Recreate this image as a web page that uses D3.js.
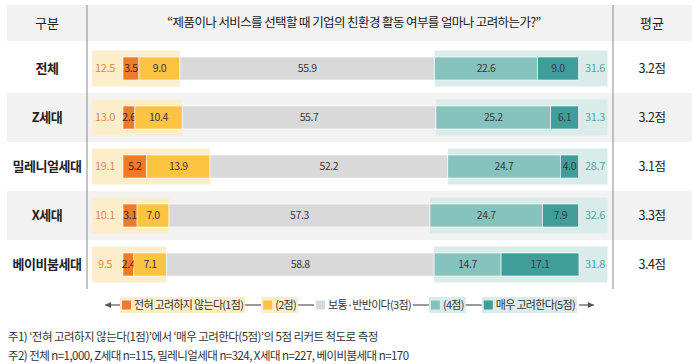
<!DOCTYPE html>
<html>
<head>
<meta charset="utf-8">
<script src="https://cdn.jsdelivr.net/npm/d3@7"></script>
<style>
  body { margin: 0; background: #fff; }
  svg text { font-family: "Noto Sans CJK KR", "Noto Sans", sans-serif; }
</style>
</head>
<body>
<div class="chart-wrapper"></div>
<script>
var categories = ["전체", "Z세대", "밀레니얼세대", "X세대", "베이비붐세대"];
var notConsider = [3.5, 2.6, 5.2, 3.1, 2.4];      // 1점
var ratherNot = [9.0, 10.4, 13.9, 7.0, 7.1];      // 2점
var neutral = [55.9, 55.7, 52.2, 57.3, 58.8];     // 3점
var ratherYes = [22.6, 25.2, 24.7, 24.7, 14.7];   // 4점
var consider = [9.0, 6.1, 4.0, 7.9, 17.1];        // 5점
var negTotal = [12.5, 13.0, 19.1, 10.1, 9.5];
var posTotal = [31.6, 31.3, 28.7, 32.6, 31.8];
var means = ["3.2점", "3.2점", "3.1점", "3.3점", "3.4점"];
var legendLabels = ["전혀 고려하지 않는다(1점)", "(2점)", "보통·반반이다(3점)", "(4점)", "매우 고려한다(5점)"];
var title = "“제품이나 서비스를 선택할 때 기업의 친환경 활동 여부를 얼마나 고려하는가?”";
var notes = [
    "주1) ‘전혀 고려하지 않는다(1점)’에서 ‘매우 고려한다(5점)’의 5점 리커트 척도로 측정",
    "주2) 전체 n=1,000, Z세대 n=115, 밀레니얼세대 n=324, X세대 n=227, 베이비붐세대 n=170"
];

var colors = ["#ec7b2c", "#fdc441", "#d9d9d9", "#86c2be", "#3f9e9a"];
var series = [notConsider, ratherNot, neutral, ratherYes, consider];

var width = 699, height = 364;
var svg = d3.select(".chart-wrapper").append("svg")
    .attr("width", width)
    .attr("height", height);

var x = d3.scaleLinear().domain([0, 100]).range([123, 578.5]);
var y = d3.scaleBand().domain(categories).range([44, 289]);
var bh = 23, boxH = 36;

// header band + alternating row bands
svg.append("rect").attr("x", 7).attr("y", 5).attr("width", 685).attr("height", 36).attr("fill", "#f2f2f2");
svg.selectAll(".row-bg")
    .data(categories.filter(function (d, i) { return i % 2 === 1; }))
    .enter().append("rect")
    .attr("class", "row-bg")
    .attr("x", 7)
    .attr("y", function (d) { return y(d); })
    .attr("width", 685)
    .attr("height", y.bandwidth())
    .attr("fill", "#f2f2f2");

svg.append("text").attr("x", 47).attr("y", 23).attr("dy", "0.35em")
    .attr("text-anchor", "middle").attr("font-size", 13).attr("fill", "#222").text("구분");
svg.append("text").attr("x", 354).attr("y", 23).attr("dy", "0.35em")
    .attr("text-anchor", "middle").attr("font-size", 12.5).attr("letter-spacing", "-0.6px")
    .attr("fill", "#1a1a1a").text(title);
svg.append("text").attr("x", 652).attr("y", 23).attr("dy", "0.35em")
    .attr("text-anchor", "middle").attr("font-size", 13).attr("fill", "#222").text("평균");

// stack the five series
var table = categories.map(function (c, i) {
    var o = { name: c };
    series.forEach(function (s, k) { o["s" + k] = s[i]; });
    return o;
});
var keys = ["s0", "s1", "s2", "s3", "s4"];
var stacked = d3.stack().keys(keys)(table);

var rows = svg.selectAll(".row")
    .data(table)
    .enter().append("g")
    .attr("class", "row")
    .attr("transform", function (d) { return "translate(0," + (y(d.name) + y.bandwidth() / 2) + ")"; });

// summary boxes behind bars
rows.append("rect")
    .attr("x", 92)
    .attr("y", -boxH / 2)
    .attr("width", function (d) { return x(d.s0 + d.s1) - 92; })
    .attr("height", boxH)
    .attr("fill", "#fdeecb");
rows.append("rect")
    .attr("x", function (d) { return x(d.s0 + d.s1 + d.s2); })
    .attr("y", -boxH / 2)
    .attr("width", function (d) { return x(100) + 29 - x(d.s0 + d.s1 + d.s2); })
    .attr("height", boxH)
    .attr("fill", "#d9ecea");

stacked.forEach(function (layer, k) {
    layer.forEach(function (seg, i) {
        var cy = y(categories[i]) + y.bandwidth() / 2;
        svg.append("rect")
            .attr("x", x(seg[0]))
            .attr("y", cy - bh / 2)
            .attr("width", x(seg[1]) - x(seg[0]))
            .attr("height", bh)
            .attr("fill", colors[k])
            .attr("stroke", "#fff")
            .attr("stroke-width", 0.6);
        svg.append("text")
            .attr("x", (x(seg[0]) + x(seg[1])) / 2)
            .attr("y", cy)
            .attr("dy", "0.35em")
            .attr("text-anchor", "middle")
            .attr("font-size", 10.5)
            .attr("letter-spacing", "-0.4px")
            .attr("fill", k === 0 ? "#4a2a10" : "#3a3a3a")
            .text(d3.format(".1f")(seg[1] - seg[0]));
    });
});

rows.append("text")
    .attr("x", 105).attr("dy", "0.35em").attr("text-anchor", "middle")
    .attr("font-size", 11).attr("letter-spacing", "-0.4px").attr("fill", "#e08a4c")
    .text(function (d, i) { return d3.format(".1f")(negTotal[i]); });
rows.append("text")
    .attr("x", 595).attr("dy", "0.35em").attr("text-anchor", "middle")
    .attr("font-size", 11).attr("letter-spacing", "-0.4px").attr("fill", "#5aa5a2")
    .text(function (d, i) { return d3.format(".1f")(posTotal[i]); });

rows.append("text")
    .attr("x", 47).attr("dy", "0.35em").attr("text-anchor", "middle")
    .attr("font-size", 13).attr("font-weight", "bold").attr("letter-spacing", "-0.5px")
    .attr("fill", "#222")
    .text(function (d) { return d.name; });
rows.append("text")
    .attr("x", 652).attr("dy", "0.35em").attr("text-anchor", "middle")
    .attr("font-size", 12.5).attr("letter-spacing", "-0.5px").attr("fill", "#222")
    .text(function (d, i) { return means[i]; });

// separators
[87, 613].forEach(function (lx) {
    svg.append("line").attr("x1", lx).attr("x2", lx).attr("y1", 5).attr("y2", 289)
        .attr("stroke", "#888").attr("stroke-width", 1);
});

// legend
var ly = 305;
var legend = svg.append("g").attr("class", "legend");
var bgColors = ["#fdeecb", "#fdeecb", "none", "#d9ecea", "#d9ecea"];
var cx = 105;
function arrow(x1, x2) {
    legend.append("line").attr("x1", x1).attr("x2", x2).attr("y1", ly).attr("y2", ly)
        .attr("stroke", "#555").attr("stroke-width", 1.2);
    var dir = x2 > x1 ? 1 : -1;
    legend.append("path")
        .attr("d", "M" + x2 + "," + ly + "L" + (x2 - dir * 6) + "," + (ly - 3) + "L" + (x2 - dir * 6) + "," + (ly + 3) + "Z")
        .attr("fill", "#555");
}
arrow(cx + 15, cx);
cx += 17;
legendLabels.forEach(function (lab, i) {
    var g = legend.append("g");
    var bg = g.append("rect").attr("x", cx - 2).attr("y", ly - 8).attr("height", 16).attr("fill", bgColors[i]);
    g.append("rect").attr("x", cx).attr("y", ly - 4.5).attr("width", 9).attr("height", 9).attr("fill", colors[i]);
    var t = g.append("text").attr("x", cx + 12).attr("y", ly).attr("dy", "0.35em")
        .attr("font-size", 11).attr("letter-spacing", "-0.7px").attr("fill", "#333").text(lab);
    var w = t.node().getComputedTextLength();
    bg.attr("width", w + 16);
    cx += w + 14;
    if (i < legendLabels.length - 1) {
        legend.append("line").attr("x1", cx).attr("x2", cx + 16).attr("y1", ly).attr("y2", ly)
            .attr("stroke", "#555").attr("stroke-width", 1.2);
        cx += 18;
    }
});
arrow(cx + 2, cx + 17);

// notes
svg.selectAll(".note")
    .data(notes)
    .enter().append("text")
    .attr("class", "note")
    .attr("x", 8)
    .attr("y", function (d, i) { return 337 + i * 19; })
    .attr("dy", "0.35em")
    .attr("font-size", 11.5)
    .attr("letter-spacing", "-0.55px")
    .attr("fill", "#333")
    .text(function (d) { return d; });
</script>
</body>
</html>
